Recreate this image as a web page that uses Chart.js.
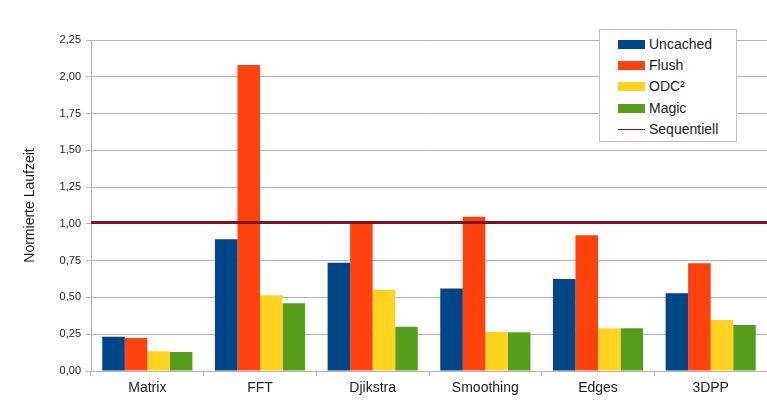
<!DOCTYPE html>
<html>
<head>
<meta charset="utf-8">
<script src="https://cdn.jsdelivr.net/npm/chart.js@4/dist/chart.umd.min.js"></script>
<style>
  html, body { margin: 0; padding: 0; background: #fff; }
  #wrap { position: relative; width: 767px; height: 413px; }
  #legend {
    position: absolute; left: 599px; top: 29px; width: 136px; height: 111px;
    border: 1px solid #c0c0c0; background: #fff; box-sizing: content-box;
    font: 14px "Liberation Sans", Arial, sans-serif; color: #1a1a1a;
  }
  .item { position: absolute; left: 18px; height: 18px; line-height: 18px; white-space: nowrap; }
  .sw { position: absolute; left: 0; top: 5px; width: 27px; height: 9px; }
  .ln { position: absolute; left: 0; top: 9px; width: 27px; height: 1px; }
  .lbl { position: absolute; left: 31px; top: 0; }
</style>
</head>
<body>
<div id="wrap">
  <canvas id="c" width="767" height="413"></canvas>
  <div id="legend"></div>
</div>
<script>
// Benchmarks and their normalised runtimes
const categories = ["Matrix", "FFT", "Djikstra", "Smoothing", "Edges", "3DPP"];
const uncached   = [0.233, 0.895, 0.736, 0.560, 0.625, 0.528];
const flush      = [0.224, 2.080, 1.000, 1.049, 0.922, 0.732];
const odc2       = [0.134, 0.515, 0.553, 0.265, 0.290, 0.347];
const magic      = [0.129, 0.460, 0.301, 0.263, 0.290, 0.313];
const sequentiell = [1.01, 1.01, 1.01, 1.01, 1.01, 1.01];
const yTicks = [0, 0.25, 0.5, 0.75, 1, 1.25, 1.5, 1.75, 2, 2.25];

const FONT = '"Liberation Sans", Arial, sans-serif';
const GRID = '#b3b3b3';

// Sequential baseline spans the whole plot width: points at the category
// centres plus the outer edges of the first and last category, plotted on
// a hidden linear axis that shares the category range.
const seqPoints = [{ x: -0.5, y: sequentiell[0] }]
  .concat(sequentiell.map((v, i) => ({ x: i, y: v })))
  .concat([{ x: categories.length - 0.5, y: sequentiell[sequentiell.length - 1] }]);

const barDs = (label, data, color) => ({
  type: 'bar', indexAxis: 'x', label, data, backgroundColor: color, borderWidth: 0,
  barPercentage: 1.0, categoryPercentage: 0.8, order: 2
});

const chart = new Chart(document.getElementById('c'), {
  data: {
    labels: categories,
    datasets: [
      barDs('Uncached', uncached, '#004586'),
      barDs('Flush', flush, '#ff420e'),
      barDs('ODC²', odc2, '#ffd320'),
      barDs('Magic', magic, '#579d1c'),
      {
        type: 'line', indexAxis: 'x', label: 'Sequentiell', data: seqPoints, xAxisID: 'xl',
        borderColor: '#7e1424', borderWidth: 3, pointRadius: 0, tension: 0,
        fill: false, order: 1
      }
    ]
  },
  options: {
    // bars share the single value axis, so grouping stays on one slot per category
    indexAxis: 'y',
    responsive: false,
    animation: false,
    layout: { padding: { top: 40, right: 0, left: 0, bottom: 0 } },
    plugins: { legend: { display: false }, tooltip: { enabled: false } },
    scales: {
      x: {
        type: 'category', axis: 'x', position: 'bottom',
        offset: true,
        grid: { display: true, drawOnChartArea: false, drawTicks: true, tickLength: 5, offset: true, color: GRID },
        border: { color: GRID },
        ticks: { color: '#1a1a1a', font: { family: FONT, size: 14 }, padding: 4 },
        afterFit: s => { s.height = 42; }
      },
      xl: {
        type: 'linear', axis: 'x', position: 'bottom', display: false,
        min: -0.5, max: categories.length - 0.5
      },
      y: {
        type: 'linear', axis: 'y', position: 'left',
        min: 0, max: 2.25,
        afterBuildTicks: s => { s.ticks = yTicks.map(v => ({ value: v })); },
        grid: { color: GRID, tickLength: 5 },
        border: { color: GRID },
        ticks: {
          color: '#1a1a1a', font: { family: FONT, size: 11 }, padding: 5,
          callback: v => v.toFixed(2).replace('.', ',')
        },
        title: {
          display: true, text: 'Normierte Laufzeit', color: '#1a1a1a',
          font: { family: FONT, size: 14 }, padding: { top: 22, bottom: 0 }
        },
        afterFit: s => { s.width = 91; }
      }
    }
  }
});

// Legend built from the chart's datasets
const legend = document.getElementById('legend');
const rowTops = [5, 26, 47, 69, 90];
chart.data.datasets.forEach((ds, i) => {
  const item = document.createElement('div');
  item.className = 'item';
  item.style.top = rowTops[i] + 'px';
  const mark = document.createElement('div');
  if (ds.type === 'line') {
    mark.className = 'ln';
    mark.style.background = ds.borderColor;
  } else {
    mark.className = 'sw';
    mark.style.background = ds.backgroundColor;
  }
  const txt = document.createElement('span');
  txt.className = 'lbl';
  txt.textContent = ds.label;
  item.appendChild(mark);
  item.appendChild(txt);
  legend.appendChild(item);
});
</script>
</body>
</html>
